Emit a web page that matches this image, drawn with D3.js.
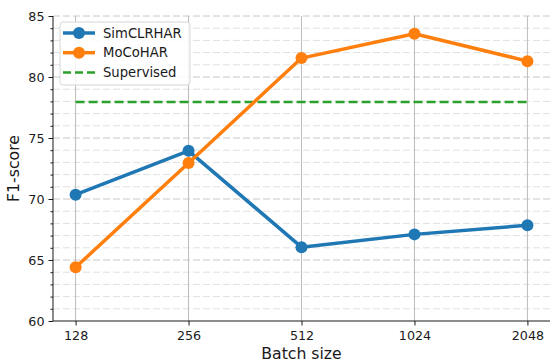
<!DOCTYPE html>
<html>
<head>
<meta charset="utf-8">
<script src="https://cdn.jsdelivr.net/npm/d3@7"></script>
<style>
  body { margin: 0; background: #fff; }
  text { font-family: "DejaVu Sans", sans-serif; }
</style>
</head>
<body>
<svg width="550" height="362"></svg>
<script>
const batchSizes = ["128", "256", "512", "1024", "2048"];
const simclr = [70.35, 73.95, 66.05, 67.1, 67.85];
const moco = [64.4, 72.95, 81.55, 83.55, 81.3];
const supervised = 77.95;
const yTicks = [60, 65, 70, 75, 80, 85];

const svg = d3.select("svg");
const margin = { top: 16, right: 0, bottom: 41, left: 53 };
const width = +svg.attr("width");
const height = +svg.attr("height");

const x = d3.scalePoint().domain(batchSizes).range([margin.left, width - margin.right]).padding(0.2);
const y = d3.scaleLinear().domain([60, 85]).range([height - margin.bottom, margin.top]);

// minor horizontal grid
svg.append("g").selectAll("line")
  .data(d3.range(60, 86).filter(d => d % 5 !== 0))
  .enter().append("line")
  .attr("x1", margin.left).attr("x2", width)
  .attr("y1", d => y(d)).attr("y2", d => y(d))
  .attr("stroke", "#e0e0e0").attr("stroke-width", 1)
  .attr("stroke-dasharray", "7,3");

// major horizontal grid
svg.append("g").selectAll("line")
  .data(yTicks.slice(1))
  .enter().append("line")
  .attr("x1", margin.left).attr("x2", width)
  .attr("y1", d => y(d)).attr("y2", d => y(d))
  .attr("stroke", "#c8c8c8").attr("stroke-width", 1)
  .attr("stroke-dasharray", "7,3");

// vertical grid
svg.append("g").selectAll("line")
  .data(batchSizes)
  .enter().append("line")
  .attr("x1", d => x(d)).attr("x2", d => x(d))
  .attr("y1", margin.top).attr("y2", y(60))
  .attr("stroke", "#bcbcbc").attr("stroke-width", 1);

// axes
const yAxis = svg.append("g")
  .attr("transform", `translate(${margin.left},0)`)
  .call(d3.axisLeft(y).tickValues(yTicks).tickSize(4.5).tickPadding(4));
svg.append("g")
  .attr("transform", `translate(${margin.left},0)`)
  .call(d3.axisLeft(y).tickValues(d3.range(60, 86).filter(d => d % 5 !== 0)).tickSize(2.5).tickFormat(""))
  .call(g => g.select(".domain").remove());

const xAxis = svg.append("g")
  .attr("transform", `translate(0,${y(60)})`)
  .call(d3.axisBottom(x).tickSize(4.5).tickPadding(5));

svg.selectAll(".tick text").attr("font-size", "12.7px").attr("fill", "#1a1a1a")
  .style("font-family", "DejaVu Sans, sans-serif");
svg.selectAll(".domain, .tick line").attr("stroke", "#1a1a1a");
xAxis.select(".domain").attr("d", `M${margin.left},0H${width}`);
yAxis.select(".domain").attr("d", `M0,${y(60)}V${margin.top}`);

// supervised
svg.append("line")
  .attr("x1", x("128")).attr("x2", x("2048"))
  .attr("y1", y(supervised)).attr("y2", y(supervised))
  .attr("stroke", "#2ca02c").attr("stroke-width", 2.5)
  .attr("stroke-dasharray", "9,4");

const line = d3.line().x((d, i) => x(batchSizes[i])).y(d => y(d));

function series(vals, color) {
  svg.append("path").datum(vals)
    .attr("d", line).attr("fill", "none")
    .attr("stroke", color).attr("stroke-width", 3.5)
    .attr("stroke-linejoin", "round");
  svg.append("g").selectAll("circle")
    .data(vals).enter().append("circle")
    .attr("cx", (d, i) => x(batchSizes[i])).attr("cy", d => y(d))
    .attr("r", 6).attr("fill", color);
}
series(simclr, "#1f77b4");
series(moco, "#ff7f0e");

// axis labels
svg.append("text")
  .attr("x", (margin.left + width) / 2).attr("y", 359)
  .attr("text-anchor", "middle").attr("font-size", "15.7px").attr("fill", "#1a1a1a")
  .text("Batch size");
svg.append("text")
  .attr("transform", `translate(19,${(margin.top + y(60)) / 2}) rotate(-90)`)
  .attr("text-anchor", "middle").attr("font-size", "15.7px").attr("fill", "#1a1a1a")
  .text("F1-score");

// legend
const legend = svg.append("g").attr("transform", "translate(60,22)");
legend.append("rect")
  .attr("width", 130).attr("height", 63).attr("rx", 3)
  .attr("fill", "#fff").attr("fill-opacity", 0.85)
  .attr("stroke", "#d6d6d6").attr("stroke-width", 1);
const items = [
  { label: "SimCLRHAR", color: "#1f77b4", type: "marker" },
  { label: "MoCoHAR", color: "#ff7f0e", type: "marker" },
  { label: "Supervised", color: "#2ca02c", type: "dash" }
];
items.forEach((it, i) => {
  const yy = 11 + i * 19.7;
  legend.append("line")
    .attr("x1", 3).attr("x2", 35).attr("y1", yy).attr("y2", yy)
    .attr("stroke", it.color).attr("stroke-width", it.type === "dash" ? 2.5 : 3.5)
    .attr("stroke-dasharray", it.type === "dash" ? "8,4" : null);
  if (it.type === "marker") {
    legend.append("circle").attr("cx", 19).attr("cy", yy).attr("r", 6).attr("fill", it.color);
  }
  legend.append("text")
    .attr("x", 43).attr("y", yy + 4.7)
    .attr("font-size", "13.2px").attr("fill", "#1a1a1a")
    .text(it.label);
});
</script>
</body>
</html>
